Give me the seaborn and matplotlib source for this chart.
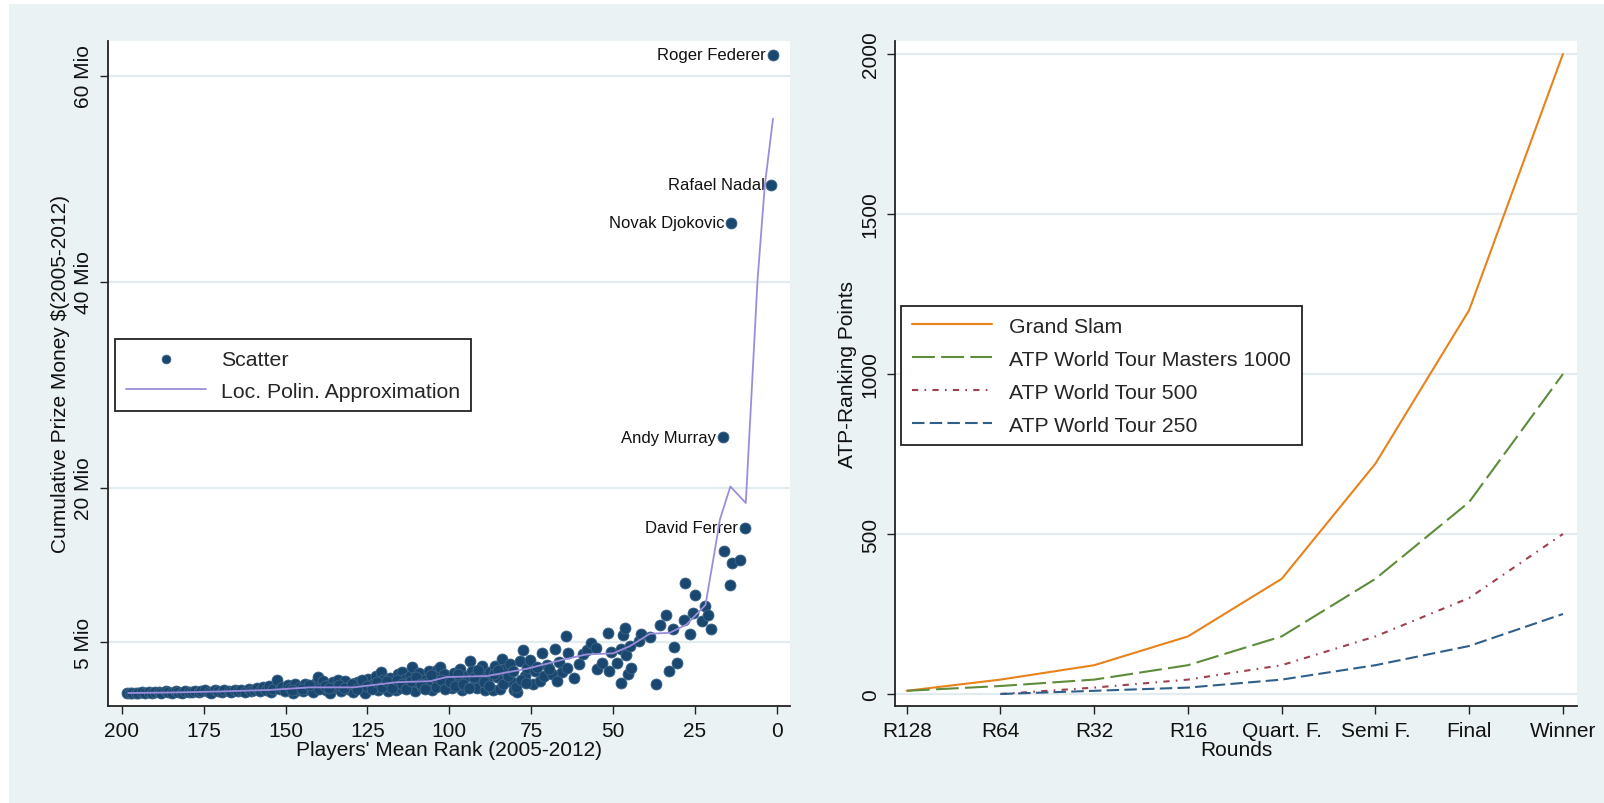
import numpy as np
import pandas as pd
import matplotlib
matplotlib.use("Agg")
import matplotlib.pyplot as plt
from matplotlib.patches import Rectangle
import seaborn as sns

# ---------------- data: left panel ----------------
rank_band = [198.5, 197.6, 196.8, 195.5, 194.9, 193.7, 192.8, 191.6, 190.9, 189.8,
             188.7, 187.9, 186.6, 185.8, 184.7, 183.5, 182.9, 181.6, 180.8, 179.5,
             178.7, 177.6, 176.4, 175.8, 174.6, 173.5, 172.7, 171.4, 170.6, 169.5,
             168.8, 167.4, 166.6, 165.5, 164.4, 163.7, 162.5, 161.3, 160.6]
prize_band = [0.05, 0.08, 0.04, 0.10, 0.06, 0.12, 0.07, 0.15, 0.09, 0.18,
              0.11, 0.06, 0.20, 0.14, 0.09, 0.22, 0.16, 0.10, 0.25, 0.13,
              0.19, 0.28, 0.12, 0.21, 0.30, 0.17, 0.08, 0.33, 0.24, 0.15,
              0.36, 0.27, 0.11, 0.39, 0.22, 0.31, 0.18, 0.45, 0.26]

rank_mid = [159.5, 158.7, 157.8, 156.9, 156.1, 155.2, 154.5, 153.7, 152.5, 151.8,
            151.0, 150.2, 149.4, 148.6, 147.7, 147.0, 146.2, 145.5, 144.8, 144.0,
            143.1, 142.4, 141.5, 140.7, 140.0, 139.3, 138.5, 137.8, 137.0, 136.3,
            135.5, 134.8, 134.0, 133.2, 132.5, 131.7, 131.0, 130.2, 129.4, 128.7,
            127.9, 127.1, 126.3, 125.6, 124.8, 124.0, 123.3, 122.5, 121.8, 121.0,
            120.3, 119.5, 118.8, 118.0, 117.2, 116.4, 115.7, 115.0, 114.3, 113.5,
            112.8, 112.0, 111.4, 110.6, 109.9, 109.2, 108.4, 107.7, 106.9, 106.1,
            105.3, 104.6, 103.9, 103.0, 102.2, 101.6, 100.8, 100.0, 99.3, 98.6,
            97.8, 96.8, 96.0, 95.3, 94.5, 93.7, 93.0, 92.2, 91.5, 90.7,
            89.9, 89.2, 88.4, 87.6, 86.8, 86.2, 85.3, 84.6, 84.0, 83.3,
            82.5, 81.6, 80.9, 80.2, 79.2, 78.5, 77.6, 77.0, 76.2, 75.4,
            74.6, 73.8, 72.3, 71.8, 71.0, 70.2, 68.8, 67.8, 66.5, 65.7,
            64.5, 63.7, 64.2, 62.0, 60.5, 59.1, 58.0, 56.6, 55.3, 54.9,
            53.5, 51.7, 51.2, 50.5, 48.9, 47.7, 47.6, 46.9, 46.4, 46.1,
            45.6, 44.7, 44.4, 42.2, 41.5, 38.8, 36.9, 35.7, 33.9, 32.9,
            31.7, 31.4, 30.6, 28.4, 28.0, 26.6, 25.7, 25.0, 22.9, 21.8,
            20.9, 20.2, 16.2, 14.3, 13.8, 11.2]
prize_mid = [0.35, 0.55, 0.20, 0.62, 0.30, 0.75, 0.15, 0.48, 1.35, 0.40,
             0.68, 0.22, 0.80, 0.52, 0.10, 0.90, 0.35, 0.62, 0.20, 0.95,
             0.45, 0.72, 0.15, 1.05, 1.65, 0.55, 1.25, 0.30, 0.85, 0.10,
             1.10, 0.60, 1.35, 0.25, 0.90, 1.20, 0.45, 0.70, 0.15, 1.05,
             1.15, 0.40, 0.80, 0.10, 1.45, 0.60, 0.95, 1.75, 0.30, 2.05,
             1.30, 0.70, 0.20, 1.55, 1.00, 0.35, 1.85, 0.55, 2.10, 1.40,
             0.80, 1.70, 2.60, 0.25, 1.15, 1.95, 0.60, 1.35, 1.05, 2.20,
             0.30, 1.60, 2.25, 2.60, 0.85, 1.90, 1.25, 0.80, 0.55, 2.00,
             1.45, 2.40, 0.30, 0.65, 1.70, 3.15, 2.20, 1.10, 0.50, 1.85,
             2.65, 0.30, 1.40, 2.05, 0.35, 2.70, 1.60, 0.45, 3.40, 2.40,
             1.25, 2.90, 1.10, 0.35, 0.15, 3.20, 4.25, 1.75, 2.50, 3.30,
             0.90, 2.20, 1.20, 3.90, 1.70, 2.80, 1.85, 4.30, 3.10, 2.10,
             5.60, 3.90, 2.50, 1.50, 2.90, 3.80, 4.20, 4.90, 4.40, 2.40,
             3.00, 5.90, 2.20, 4.00, 3.00, 4.30, 1.00, 5.70, 6.40, 3.70,
             1.90, 4.60, 2.50, 5.10, 5.80, 5.50, 0.90, 6.70, 7.60, 2.20,
             6.30, 4.50, 3.00, 7.10, 10.70, 5.80, 7.80, 9.60, 7.00, 8.50,
             7.60, 6.30, 13.80, 10.50, 12.70, 13.00]

# extra players filling the dense cloud
rank_dense = [148.1, 145.0, 142.9, 139.7, 138.1, 136.7, 133.6, 132.1, 129.8, 128.2,
              126.7, 125.1, 123.7, 122.1, 120.6, 119.1, 117.6, 116.1, 114.6, 113.1,
              111.7, 110.2, 108.8, 107.3, 105.7, 104.2, 102.6, 101.2, 99.7, 98.2,
              97.2, 95.7, 94.1, 92.6, 91.1, 89.5, 88.0, 86.5, 85.0, 83.7,
              82.1, 80.6, 79.7, 78.0, 76.6, 73.2, 69.6, 67.2]
prize_dense = [0.30, 0.45, 0.85, 0.40, 0.75, 0.50, 0.80, 0.55, 0.95, 0.40,
               1.30, 0.75, 0.45, 1.10, 0.60, 1.20, 0.50, 1.30, 0.90, 0.45,
               1.25, 1.60, 0.90, 0.40, 1.80, 0.65, 1.35, 0.45, 1.10, 0.70,
               1.85, 0.95, 0.55, 1.60, 2.30, 1.15, 0.70, 1.90, 2.30, 0.95,
               1.75, 2.20, 0.60, 1.30, 1.05, 2.60, 2.35, 1.20]

players = ["Roger Federer", "Rafael Nadal", "Novak Djokovic", "Andy Murray", "David Ferrer"]
player_rank = [1.2, 1.7, 14.0, 16.4, 9.8]
player_prize = [62.0, 49.4, 45.7, 24.9, 16.1]

lowess_rank = [198, 185, 170, 160, 154.8, 142.5, 129.3, 116, 105.9, 100.8, 88.6, 76.4,
               65.2, 58.1, 50, 44.9, 38.8, 32.7, 27.6, 21.8, 18.9, 17.4, 15.4, 14.2,
               9.5, 5.9, 3.7, 1.2]
lowess_prize = [0.05, 0.1, 0.2, 0.3, 0.35, 0.6, 0.6, 1.1, 1.2, 1.6, 1.7, 2.4,
                3.3, 3.8, 3.9, 4.6, 5.8, 5.9, 6.7, 8.6, 14.0, 16.9, 18.9, 20.1,
                18.5, 40.2, 49.3, 55.8]

y_ticks_left = [5, 20, 40, 60]
y_tick_labels_left = ["5 Mio", "20 Mio", "40 Mio", "60 Mio"]
x_ticks_left = [200, 175, 150, 125, 100, 75, 50, 25, 0]

# ---------------- data: right panel ----------------
rounds = ["R128", "R64", "R32", "R16", "Quart. F.", "Semi F.", "Final", "Winner"]
grand_slam = [10, 45, 90, 180, 360, 720, 1200, 2000]
masters_1000 = [10, 25, 45, 90, 180, 360, 600, 1000]
tour_500 = [None, 0, 20, 45, 90, 180, 300, 500]
tour_250 = [None, 0, 10, 20, 45, 90, 150, 250]
y_ticks_right = [0, 500, 1000, 1500, 2000]

# ---------------- style ----------------
sns.set_theme(style="white")
plt.rcParams['font.family'] = ['Liberation Sans', 'DejaVu Sans']
BG = "#EAF2F3"
GRID = "#E2ECEE"
TXT = "#111111"

fig = plt.figure(figsize=(16.04, 8.04), dpi=100)
fig.patch.set_facecolor("white")
fig.patches.append(Rectangle((9 / 1604, 0), 1 - 9 / 1604, 1 - 5 / 804,
                             transform=fig.transFigure, facecolor=BG,
                             edgecolor="none", zorder=-10))

W, H = 1604, 804
def axrect(x0, x1, y0, y1):
    return [x0 / W, 1 - y1 / H, (x1 - x0) / W, (y1 - y0) / H]

axL = fig.add_axes(axrect(108, 790, 42, 707))
axR = fig.add_axes(axrect(895, 1577, 42, 707))

for ax in (axL, axR):
    ax.set_facecolor("white")
    for s in ("top", "right"):
        ax.spines[s].set_visible(False)
    for s in ("left", "bottom"):
        ax.spines[s].set_color("#222222")
        ax.spines[s].set_linewidth(1.3)
    ax.tick_params(axis="both", which="major", length=6, width=1.0,
                   color="#222222", labelsize=15, labelcolor=TXT, direction="out",
                   left=True, bottom=True)
    ax.tick_params(axis="x", pad=5)
    ax.tick_params(axis="y", pad=5, labelrotation=90)
    ax.grid(axis="y", color=GRID, linewidth=1.6)
    ax.grid(axis="x", visible=False)
    ax.set_axisbelow(True)

# ---------------- left panel ----------------
NAVY = "#1A476F"
LAV = "#9C8DDC"
sc_rank = rank_band + rank_mid + rank_dense + player_rank
sc_prize = prize_band + prize_mid + prize_dense + player_prize
df_sc = pd.DataFrame({"rank": sc_rank, "prize": sc_prize})
df_lo = pd.DataFrame({"rank": lowess_rank, "prize": lowess_prize})

sns.scatterplot(data=df_sc, x="rank", y="prize", ax=axL, color=NAVY, s=62,
                edgecolor="#3D6587", linewidth=0.6, label="Scatter", zorder=3)
sns.lineplot(data=df_lo, x="rank", y="prize", ax=axL, color=LAV, linewidth=1.3,
             label="Loc. Polin. Approximation", zorder=4)

for name, r, p in zip(players, player_rank, player_prize):
    axL.annotate(name, xy=(r, p), xytext=(-5, 0), textcoords="offset points",
                 ha="right", va="center", fontsize=12, color=TXT)

axL.set_xlim(204.2, -4)
axL.set_ylim(-1.21, 63.35)
axL.set_xticks(x_ticks_left)
axL.set_xticklabels([str(v) for v in x_ticks_left])
axL.set_yticks(y_ticks_left)
axL.set_yticklabels(y_tick_labels_left, va="center")
axL.set_xlabel("Players' Mean Rank (2005-2012)", fontsize=15, color=TXT, labelpad=0)
axL.set_ylabel(r"Cumulative Prize Money \$(2005-2012)", fontsize=15, color=TXT, labelpad=3)

legL = axL.legend(loc="upper left", bbox_to_anchor=(0.0103, 0.552), fontsize=15.3,
                  frameon=True, fancybox=False, edgecolor="#222222", framealpha=1,
                  handlelength=3.8, handletextpad=0.7, borderpad=0.5, labelspacing=0.62,
                  markerscale=0.8, borderaxespad=0)
legL.get_frame().set_linewidth(1.3)

# ---------------- right panel ----------------
ORANGE = "#E8821A"
GREEN = "#5E8C3A"
RED = "#A0404F"
BLUE = "#2F5F8A"
series = [("Grand Slam", grand_slam, ORANGE, None),
          ("ATP World Tour Masters 1000", masters_1000, GREEN, (11, 3)),
          ("ATP World Tour 500", tour_500, RED, (3, 3, 0.8, 3)),
          ("ATP World Tour 250", tour_250, BLUE, (6, 2.5))]
for label, vals, col, dash in series:
    d = pd.DataFrame({"x": list(range(len(rounds))), "y": vals}).dropna()
    sns.lineplot(data=d, x="x", y="y", ax=axR, color=col, linewidth=1.5, label=label)
    if dash is not None:
        axR.lines[-1].set_dashes(dash)

axR.set_xlim(-0.125, 7.15)
axR.set_ylim(-37.5, 2040.6)
axR.set_xticks(range(len(rounds)))
axR.set_xticklabels(rounds)
axR.set_yticks(y_ticks_right)
axR.set_yticklabels([str(v) for v in y_ticks_right], va="center")
axR.set_xlabel("Rounds", fontsize=15, color=TXT, labelpad=0)
axR.set_ylabel("ATP-Ranking Points", fontsize=15, color=TXT, labelpad=3)

legR = axR.legend(loc="upper left", bbox_to_anchor=(0.0088, 0.6015), fontsize=15.3,
                  frameon=True, fancybox=False, edgecolor="#222222", framealpha=1,
                  handlelength=3.8, handletextpad=0.8, borderpad=0.5, labelspacing=0.66,
                  borderaxespad=0)
legR.get_frame().set_linewidth(1.3)

fig.savefig("out.png", dpi=100, facecolor=fig.get_facecolor())
